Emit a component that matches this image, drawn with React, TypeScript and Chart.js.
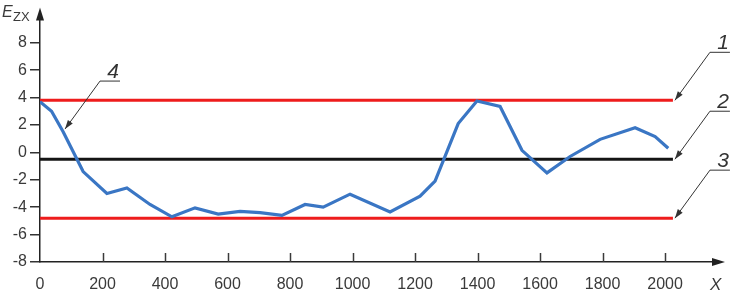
import React, { useEffect, useRef } from 'react';
import { Chart, registerables } from 'chart.js';

Chart.register(...registerables);

// ---- data ----
const xPositions = [0, 37, 74, 138, 214, 278, 352, 422, 496, 570, 640, 704, 774, 848, 906, 992, 1120, 1216, 1264, 1338, 1398, 1472, 1542, 1622, 1696, 1792, 1904, 1968, 2010];
const ezxValues = [3.7, 3.0, 1.5, -1.4, -3.0, -2.6, -3.8, -4.7, -4.05, -4.5, -4.3, -4.4, -4.6, -3.8, -4.0, -3.05, -4.35, -3.2, -2.1, 2.1, 3.75, 3.35, 0.15, -1.5, -0.3, 0.95, 1.8, 1.15, 0.3];
const upperLimit = 3.8;
const meanLevel = -0.5;
const lowerLimit = -4.8;
const levelStartX = 0;
const levelEndX = 2025;
const xTickValues = [0, 200, 400, 600, 800, 1000, 1200, 1400, 1600, 1800, 2000];
const yTickValues = [-8, -6, -4, -2, 0, 2, 4, 6, 8];
const levelLabels = ['1', '2', '3'];
const curveLabel = '4';
const curveLabelPoint = { x: 80, y: 1.7 };
const yAxisTitle = 'E';
const yAxisSub = 'ZX';
const xAxisTitle = 'X';

const RED = '#ee1c1c';
const BLUE = '#3a76c4';
const BLACK = '#141414';
const INK = '#3a3a3a';
const FONT = '"Liberation Sans", Arial, sans-serif';

function drawArrowHead(ctx: CanvasRenderingContext2D, fx: number, fy: number, tx: number, ty: number, len: number, half: number) {
  const a = Math.atan2(ty - fy, tx - fx);
  ctx.beginPath();
  ctx.moveTo(tx, ty);
  ctx.lineTo(tx - len * Math.cos(a) + half * Math.sin(a), ty - len * Math.sin(a) - half * Math.cos(a));
  ctx.lineTo(tx - len * Math.cos(a) - half * Math.sin(a), ty - len * Math.sin(a) + half * Math.cos(a));
  ctx.closePath();
  ctx.fill();
}

const decorPlugin = {
  id: 'decor',
  afterDraw(chart: any) {
    const ctx = chart.ctx as CanvasRenderingContext2D;
    const xs = chart.scales.x;
    const ys = chart.scales.y;
    const area = chart.chartArea;
    ctx.save();
    ctx.strokeStyle = INK;
    ctx.fillStyle = INK;
    ctx.lineWidth = 1.5;
    // x ticks (inward)
    xTickValues.forEach((v) => {
      if (v === 0) return;
      const px = Math.round(xs.getPixelForValue(v)) + 0.5;
      ctx.beginPath();
      ctx.moveTo(px, area.bottom);
      ctx.lineTo(px, area.bottom - 9);
      ctx.stroke();
    });
    // axis arrows
    ctx.fillStyle = '#222';
    drawArrowHead(ctx, area.left, area.top + 10, area.left, area.top - 5, 13, 4);
    drawArrowHead(ctx, area.right - 10, area.bottom, area.right + 13, area.bottom, 13, 4);

    // axis titles
    ctx.fillStyle = INK;
    ctx.textBaseline = 'alphabetic';
    ctx.textAlign = 'left';
    ctx.font = `italic 16px ${FONT}`;
    ctx.fillText(yAxisTitle, 2, 17);
    ctx.font = `13px ${FONT}`;
    ctx.fillText(yAxisSub, 13, 21);
    ctx.font = `italic 17px ${FONT}`;
    ctx.fillText(xAxisTitle, 710, 290);

    // leaders
    const leader = (tx: number, ty: number, label: string) => {
      const ex = tx + 35;
      const ey = ty - 48;
      ctx.strokeStyle = '#333';
      ctx.fillStyle = '#333';
      ctx.lineWidth = 1;
      ctx.beginPath();
      ctx.moveTo(ex + 20, ey);
      ctx.lineTo(ex, ey);
      ctx.lineTo(tx, ty);
      ctx.stroke();
      drawArrowHead(ctx, ex, ey, tx, ty, 9, 3);
      ctx.font = `italic 21px ${FONT}`;
      ctx.fillStyle = '#333';
      ctx.textAlign = 'right';
      ctx.fillText(label, ex + 19, ey - 3);
    };
    const levels = [upperLimit, meanLevel, lowerLimit];
    levels.forEach((lv, i) => {
      leader(xs.getPixelForValue(levelEndX) + 2, ys.getPixelForValue(lv), levelLabels[i]);
    });
    leader(xs.getPixelForValue(curveLabelPoint.x), ys.getPixelForValue(curveLabelPoint.y), curveLabel);
    ctx.restore();
  },
};

export default function App() {
  const ref = useRef<HTMLCanvasElement | null>(null);
  useEffect(() => {
    if (!ref.current) return;
    const level = (v: number) => [
      { x: levelStartX, y: v },
      { x: levelEndX, y: v },
    ];
    const chart = new Chart(ref.current, {
      type: 'line',
      data: {
        datasets: [
          {
            label: 'E_ZX',
            data: xPositions.map((x, i) => ({ x, y: ezxValues[i] })),
            borderColor: BLUE,
            borderWidth: 3.2,
            pointRadius: 0,
            tension: 0,
            order: 0,
          },
          { label: '1', data: level(upperLimit), borderColor: RED, borderWidth: 3, pointRadius: 0, order: 1 },
          { label: '2', data: level(meanLevel), borderColor: BLACK, borderWidth: 3, pointRadius: 0, order: 1 },
          { label: '3', data: level(lowerLimit), borderColor: RED, borderWidth: 3, pointRadius: 0, order: 1 },
        ],
      },
      options: {
        animation: false,
        responsive: false,
        maintainAspectRatio: false,
        layout: { padding: { top: 10, right: 18, left: 0, bottom: 0 } },
        plugins: { legend: { display: false }, tooltip: { enabled: false } },
        scales: {
          x: {
            type: 'linear',
            min: 0,
            max: 2150,
            afterBuildTicks: (s: any) => {
              s.ticks = xTickValues.map((v) => ({ value: v }));
            },
            afterFit: (s: any) => {
              s.height = 31;
            },
            grid: { display: false },
            border: { display: true, color: '#222', width: 1.5 },
            ticks: {
              color: INK,
              font: { family: FONT, size: 16 },
              padding: 5,
              maxRotation: 0,
              autoSkip: false,
              callback: (v: any) => String(v),
            },
          },
          y: {
            type: 'linear',
            min: -8,
            max: 10.2,
            afterBuildTicks: (s: any) => {
              s.ticks = yTickValues.map((v) => ({ value: v }));
            },
            afterFit: (s: any) => {
              s.width = 40;
            },
            grid: { display: true, drawOnChartArea: false, drawTicks: true, tickLength: 10, color: '#333', lineWidth: 1.5 },
            border: { display: true, color: '#222', width: 1.5 },
            ticks: {
              color: INK,
              font: { family: FONT, size: 16 },
              padding: 3,
              autoSkip: false,
              callback: (v: any) => String(v),
            },
          },
        },
      },
      plugins: [decorPlugin],
    });
    return () => chart.destroy();
  }, []);
  return (
    <div style={{ position: 'fixed', left: 0, top: 0, width: 730, height: 293, background: '#fff' }}>
      <canvas ref={ref} width={730} height={293} style={{ display: 'block', width: 730, height: 293 }} />
    </div>
  );
}
